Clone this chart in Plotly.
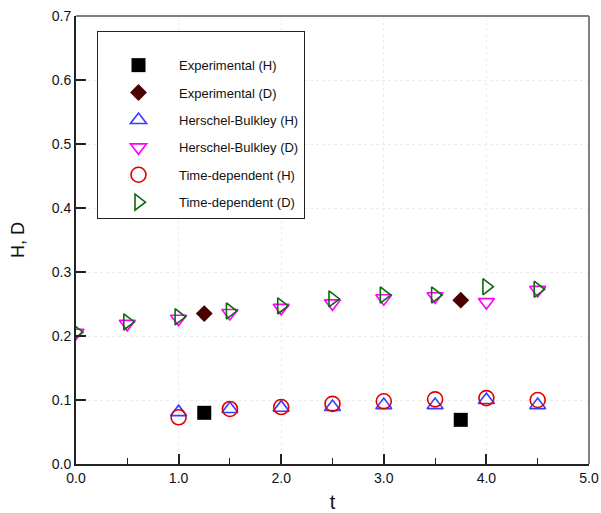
import plotly.graph_objects as go

# ---- data ----
t_exp = [1.25, 3.75]
exp_H = [0.080, 0.069]
exp_D = [0.235, 0.256]

t_hb_H = [1.0, 1.5, 2.0, 2.5, 3.0, 3.5, 4.0, 4.5]
hb_H = [0.081, 0.086, 0.088, 0.089, 0.092, 0.092, 0.100, 0.092]

t_D = [0.0, 0.5, 1.0, 1.5, 2.0, 2.5, 3.0, 3.5, 4.0, 4.5]
hb_D = [0.205, 0.219, 0.227, 0.236, 0.244, 0.251, 0.259, 0.262, 0.253, 0.272]

t_td_H = [1.0, 1.5, 2.0, 2.5, 3.0, 3.5, 4.0, 4.5]
td_H = [0.073, 0.086, 0.089, 0.094, 0.098, 0.101, 0.103, 0.100]

td_D = [0.206, 0.222, 0.230, 0.239, 0.247, 0.258, 0.264, 0.264, 0.277, 0.273]

x_ticks = [0, 1, 2, 3, 4, 5]
x_labels = ["0.0", "1.0", "2.0", "3.0", "4.0", "5.0"]
y_ticks = [0.0, 0.1, 0.2, 0.3, 0.4, 0.5, 0.6, 0.7]
y_labels = ["0.0", "0.1", "0.2", "0.3", "0.4", "0.5", "0.6", "0.7"]

FONT = "Liberation Sans, Arial, sans-serif"

fig = go.Figure()

def add(x, y, name, symbol, color, size, lw=1.6, group=None):
    fig.add_trace(go.Scatter(
        x=x, y=y, mode="markers", name=name, legendgroup=group or name,
        marker=dict(symbol=symbol, size=size, color=color,
                    line=dict(color=color, width=lw)),
    ))

add(t_exp, exp_H, "Experimental (H)", "square", "#000000", 14, 0)
add(t_exp, exp_D, "Experimental (D)", "diamond", "#4a0000", 13, 0)
add(t_hb_H, hb_H, "Herschel-Bulkley (H)", "triangle-up-open", "#3a3aff", 14)
add(t_D, hb_D, "Herschel-Bulkley (D)", "triangle-down-open", "#ff00ff", 14)
add(t_td_H, td_H, "Time-dependent (H)", "circle-open", "#dd0000", 15)
add(t_D, td_D, "Time-dependent (D)", "triangle-right-open", "#0b6b0b", 14)

fig.update_layout(
    width=601, height=513,
    margin=dict(l=76, r=12, t=16, b=49, autoexpand=False),
    paper_bgcolor="white", plot_bgcolor="white",
    font=dict(family=FONT, size=14, color="#111111"),
    showlegend=True,
    legend=dict(
        x=(97 - 76) / 513, y=(464 - 31) / 448, xanchor="left", yanchor="top",
        bgcolor="white", bordercolor="#222222", borderwidth=1,
        font=dict(family=FONT, size=13, color="#111111"),
        tracegroupgap=7.5, itemwidth=71,
        title=dict(text="\u00a0", font=dict(size=14)),
    ),
    xaxis=dict(
        range=[0, 5], tickvals=x_ticks, ticktext=x_labels, automargin=False,
        showline=True, linecolor="#222222", linewidth=2,
        ticks="inside", ticklen=10, tickwidth=1.5, tickcolor="#222222",
        minor=dict(dtick=0.5, ticks="inside", ticklen=6, tickwidth=1.2,
                   tickcolor="#222222", showgrid=False),
        showgrid=True, gridcolor="#ececec", griddash="dot", gridwidth=1,
        zeroline=False,
        title=dict(text="t", font=dict(size=20), standoff=19),
        tickfont=dict(size=14),
    ),
    yaxis=dict(
        range=[0, 0.7], tickvals=y_ticks, ticktext=y_labels, automargin=False,
        showline=True, linecolor="#222222", linewidth=2,
        ticks="inside", ticklen=10, tickwidth=1.5, tickcolor="#222222",
        showgrid=True, gridcolor="#ececec", griddash="dot", gridwidth=1,
        zeroline=False,
        title=dict(text="H, D", font=dict(size=18), standoff=22),
        tickfont=dict(size=14),
    ),
)

# gray top/right frame
fig.add_shape(type="line", xref="paper", yref="paper", x0=0, x1=1, y0=1, y1=1,
              line=dict(color="#808080", width=2))
fig.add_shape(type="line", xref="paper", yref="paper", x0=1, x1=1, y0=0, y1=1,
              line=dict(color="#808080", width=2))

fig.write_html("out.html")
